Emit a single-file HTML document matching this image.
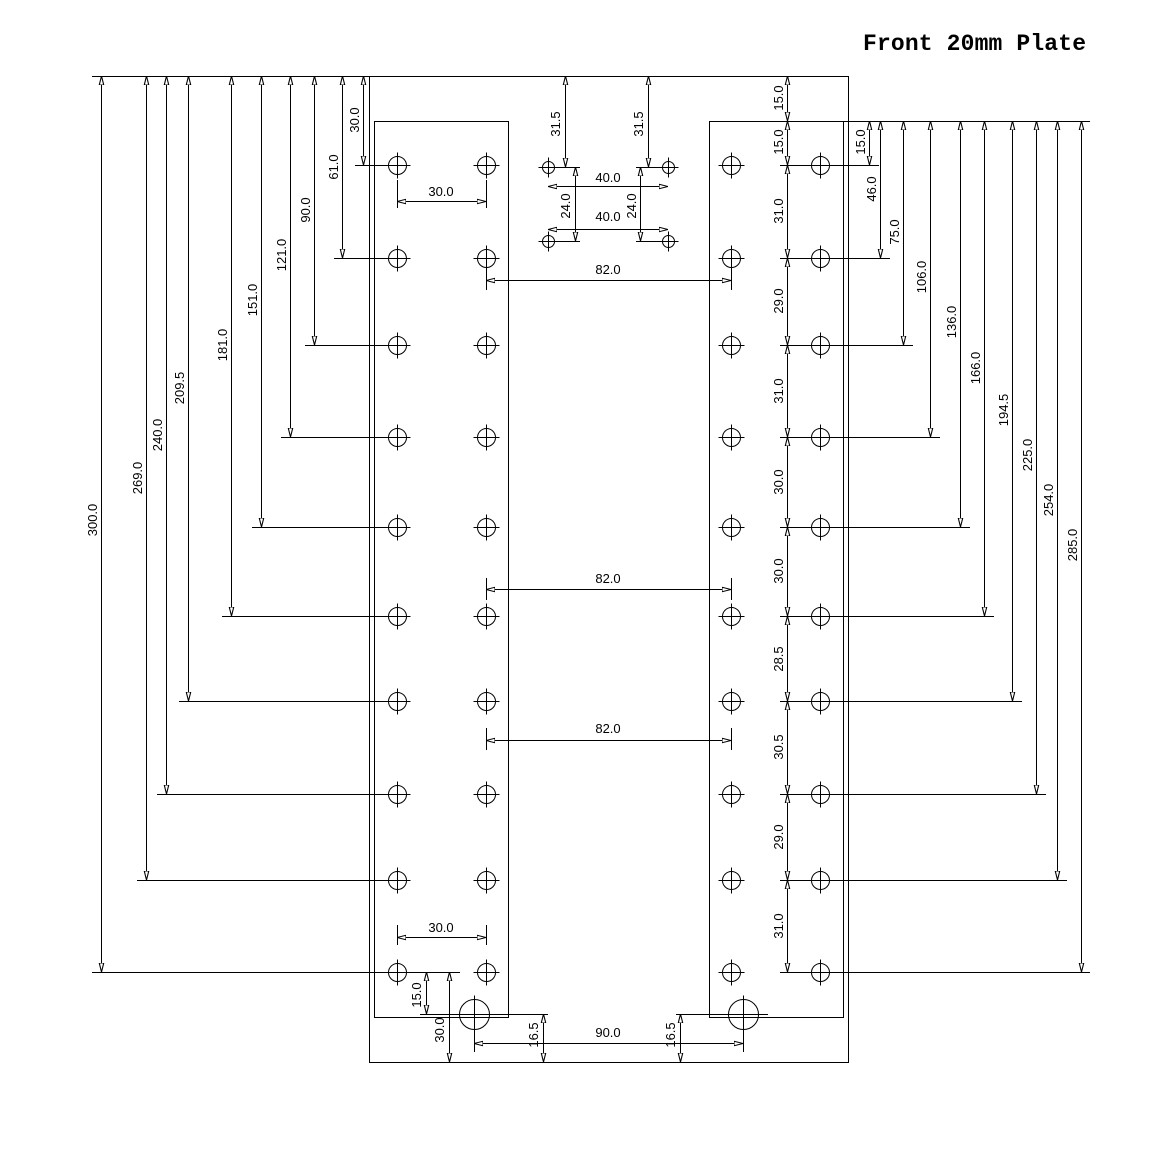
<!DOCTYPE html>
<html><head><meta charset="utf-8"><style>
body{margin:0;background:#fff}
svg{display:block}
text{font-family:"Liberation Sans",Arial,sans-serif;font-size:13px;fill:#000}
</style></head><body>
<svg width="1172" height="1164" viewBox="0 0 1172 1164" xmlns="http://www.w3.org/2000/svg">
<defs>
<marker id="a" viewBox="0 0 10 6" refX="10" refY="3" markerWidth="9" markerHeight="6" markerUnits="userSpaceOnUse" orient="auto-start-reverse"><path d="M0,0.5 L10,3 L0,5.5 Z" fill="#fff" stroke="#000" stroke-width="1.2"/></marker>
<g id="h"><circle r="9" fill="none" stroke="#000"/><line x1="-13" y1="0" x2="13" y2="0" stroke="#000"/><line x1="0" y1="-13" x2="0" y2="13" stroke="#000"/></g>
<g id="s"><circle r="6" fill="none" stroke="#000"/><line x1="-10" y1="0" x2="10" y2="0" stroke="#000"/><line x1="0" y1="-10" x2="0" y2="10" stroke="#000"/></g>
<g id="b"><circle r="15" fill="none" stroke="#000"/><line x1="-19" y1="0" x2="19" y2="0" stroke="#000"/><line x1="0" y1="-19" x2="0" y2="19" stroke="#000"/></g>
</defs>
<text x="863" y="50" style="font-family:'Liberation Mono',monospace;font-size:23px;font-weight:bold" textLength="223">Front 20mm Plate</text>
<g fill="none" stroke="#000" stroke-width="1">
<rect x="369.5" y="76.5" width="479" height="986"/>
<rect x="374.5" y="121.5" width="134" height="896"/>
<rect x="709.5" y="121.5" width="134" height="896"/>
<line x1="92" y1="76.5" x2="369" y2="76.5"/>
<line x1="787" y1="121.5" x2="1090" y2="121.5"/>
<line x1="355" y1="165.5" x2="397" y2="165.5"/>
<line x1="334" y1="258.5" x2="397" y2="258.5"/>
<line x1="305" y1="345.5" x2="397" y2="345.5"/>
<line x1="281" y1="437.5" x2="397" y2="437.5"/>
<line x1="252" y1="527.5" x2="397" y2="527.5"/>
<line x1="222" y1="616.5" x2="397" y2="616.5"/>
<line x1="179" y1="701.5" x2="397" y2="701.5"/>
<line x1="157" y1="794.5" x2="397" y2="794.5"/>
<line x1="137" y1="880.5" x2="397" y2="880.5"/>
<line x1="92" y1="972.5" x2="460" y2="972.5"/>
<line x1="780" y1="165.5" x2="879" y2="165.5"/>
<line x1="780" y1="258.5" x2="890" y2="258.5"/>
<line x1="780" y1="345.5" x2="913" y2="345.5"/>
<line x1="780" y1="437.5" x2="940" y2="437.5"/>
<line x1="780" y1="527.5" x2="970" y2="527.5"/>
<line x1="780" y1="616.5" x2="994" y2="616.5"/>
<line x1="780" y1="701.5" x2="1022" y2="701.5"/>
<line x1="780" y1="794.5" x2="1046" y2="794.5"/>
<line x1="780" y1="880.5" x2="1067" y2="880.5"/>
<line x1="780" y1="972.5" x2="1090" y2="972.5"/>
</g>
<g stroke="#000" stroke-width="1" marker-start="url(#a)" marker-end="url(#a)">
<line x1="101.5" y1="76" x2="101.5" y2="972"/>
<line x1="146.5" y1="76" x2="146.5" y2="880"/>
<line x1="166.5" y1="76" x2="166.5" y2="794"/>
<line x1="188.5" y1="76" x2="188.5" y2="701"/>
<line x1="231.5" y1="76" x2="231.5" y2="616"/>
<line x1="261.5" y1="76" x2="261.5" y2="527"/>
<line x1="290.5" y1="76" x2="290.5" y2="437"/>
<line x1="314.5" y1="76" x2="314.5" y2="345"/>
<line x1="342.5" y1="76" x2="342.5" y2="258"/>
<line x1="363.5" y1="76" x2="363.5" y2="165"/>
<line x1="869.5" y1="121" x2="869.5" y2="165"/>
<line x1="880.5" y1="121" x2="880.5" y2="258"/>
<line x1="903.5" y1="121" x2="903.5" y2="345"/>
<line x1="930.5" y1="121" x2="930.5" y2="437"/>
<line x1="960.5" y1="121" x2="960.5" y2="527"/>
<line x1="984.5" y1="121" x2="984.5" y2="616"/>
<line x1="1012.5" y1="121" x2="1012.5" y2="701"/>
<line x1="1036.5" y1="121" x2="1036.5" y2="794"/>
<line x1="1057.5" y1="121" x2="1057.5" y2="880"/>
<line x1="1081.5" y1="121" x2="1081.5" y2="972"/>
<line x1="787.5" y1="76" x2="787.5" y2="121"/>
<line x1="787.5" y1="121" x2="787.5" y2="165"/>
<line x1="787.5" y1="165" x2="787.5" y2="258"/>
<line x1="787.5" y1="258" x2="787.5" y2="345"/>
<line x1="787.5" y1="345" x2="787.5" y2="437"/>
<line x1="787.5" y1="437" x2="787.5" y2="527"/>
<line x1="787.5" y1="527" x2="787.5" y2="616"/>
<line x1="787.5" y1="616" x2="787.5" y2="701"/>
<line x1="787.5" y1="701" x2="787.5" y2="794"/>
<line x1="787.5" y1="794" x2="787.5" y2="880"/>
<line x1="787.5" y1="880" x2="787.5" y2="972"/>
<line x1="565.5" y1="76" x2="565.5" y2="167"/>
<line x1="648.5" y1="76" x2="648.5" y2="167"/>
<line x1="548" y1="186.5" x2="668" y2="186.5"/>
<line x1="548" y1="229.5" x2="668" y2="229.5"/>
<line x1="575.5" y1="167" x2="575.5" y2="241"/>
<line x1="640.5" y1="167" x2="640.5" y2="241"/>
<line x1="486" y1="280.5" x2="731" y2="280.5"/>
<line x1="486" y1="589.5" x2="731" y2="589.5"/>
<line x1="486" y1="740.5" x2="731" y2="740.5"/>
<line x1="397" y1="201.5" x2="486" y2="201.5"/>
<line x1="397" y1="937.5" x2="486" y2="937.5"/>
<line x1="426.5" y1="972" x2="426.5" y2="1014"/>
<line x1="449.5" y1="972" x2="449.5" y2="1062"/>
<line x1="543.5" y1="1014" x2="543.5" y2="1062"/>
<line x1="680.5" y1="1014" x2="680.5" y2="1062"/>
<line x1="474" y1="1043.5" x2="743" y2="1043.5"/>
</g>
<g fill="none" stroke="#000" stroke-width="1">
<line x1="540" y1="167.5" x2="580" y2="167.5"/>
<line x1="636" y1="167.5" x2="676" y2="167.5"/>
<line x1="540" y1="241.5" x2="580" y2="241.5"/>
<line x1="636" y1="241.5" x2="676" y2="241.5"/>
<line x1="486.5" y1="268" x2="486.5" y2="290"/>
<line x1="731.5" y1="268" x2="731.5" y2="290"/>
<line x1="486.5" y1="578" x2="486.5" y2="600"/>
<line x1="731.5" y1="578" x2="731.5" y2="600"/>
<line x1="486.5" y1="728" x2="486.5" y2="750"/>
<line x1="731.5" y1="728" x2="731.5" y2="750"/>
<line x1="397.5" y1="180" x2="397.5" y2="208"/>
<line x1="486.5" y1="180" x2="486.5" y2="208"/>
<line x1="397.5" y1="925" x2="397.5" y2="945"/>
<line x1="486.5" y1="925" x2="486.5" y2="945"/>
<line x1="420" y1="1014.5" x2="548" y2="1014.5"/>
<line x1="676" y1="1014.5" x2="768" y2="1014.5"/>
<line x1="474.5" y1="1014" x2="474.5" y2="1052"/>
<line x1="743.5" y1="1014" x2="743.5" y2="1052"/>
</g>
<use href="#h" x="397.5" y="165.5"/><use href="#h" x="486.5" y="165.5"/><use href="#h" x="731.5" y="165.5"/><use href="#h" x="820.5" y="165.5"/>
<use href="#h" x="397.5" y="258.5"/><use href="#h" x="486.5" y="258.5"/><use href="#h" x="731.5" y="258.5"/><use href="#h" x="820.5" y="258.5"/>
<use href="#h" x="397.5" y="345.5"/><use href="#h" x="486.5" y="345.5"/><use href="#h" x="731.5" y="345.5"/><use href="#h" x="820.5" y="345.5"/>
<use href="#h" x="397.5" y="437.5"/><use href="#h" x="486.5" y="437.5"/><use href="#h" x="731.5" y="437.5"/><use href="#h" x="820.5" y="437.5"/>
<use href="#h" x="397.5" y="527.5"/><use href="#h" x="486.5" y="527.5"/><use href="#h" x="731.5" y="527.5"/><use href="#h" x="820.5" y="527.5"/>
<use href="#h" x="397.5" y="616.5"/><use href="#h" x="486.5" y="616.5"/><use href="#h" x="731.5" y="616.5"/><use href="#h" x="820.5" y="616.5"/>
<use href="#h" x="397.5" y="701.5"/><use href="#h" x="486.5" y="701.5"/><use href="#h" x="731.5" y="701.5"/><use href="#h" x="820.5" y="701.5"/>
<use href="#h" x="397.5" y="794.5"/><use href="#h" x="486.5" y="794.5"/><use href="#h" x="731.5" y="794.5"/><use href="#h" x="820.5" y="794.5"/>
<use href="#h" x="397.5" y="880.5"/><use href="#h" x="486.5" y="880.5"/><use href="#h" x="731.5" y="880.5"/><use href="#h" x="820.5" y="880.5"/>
<use href="#h" x="397.5" y="972.5"/><use href="#h" x="486.5" y="972.5"/><use href="#h" x="731.5" y="972.5"/><use href="#h" x="820.5" y="972.5"/>
<use href="#s" x="548.5" y="167.5"/><use href="#s" x="668.5" y="167.5"/><use href="#s" x="548.5" y="241.5"/><use href="#s" x="668.5" y="241.5"/>
<use href="#b" x="474.5" y="1014.5"/><use href="#b" x="743.5" y="1014.5"/>
<g text-anchor="middle">
<text transform="translate(97,520) rotate(-90)">300.0</text>
<text transform="translate(142,478) rotate(-90)">269.0</text>
<text transform="translate(162,435) rotate(-90)">240.0</text>
<text transform="translate(184,388) rotate(-90)">209.5</text>
<text transform="translate(227,345) rotate(-90)">181.0</text>
<text transform="translate(257,300) rotate(-90)">151.0</text>
<text transform="translate(286,255) rotate(-90)">121.0</text>
<text transform="translate(310,210) rotate(-90)">90.0</text>
<text transform="translate(338,167) rotate(-90)">61.0</text>
<text transform="translate(359,120) rotate(-90)">30.0</text>
<text transform="translate(865,142) rotate(-90)">15.0</text>
<text transform="translate(876,189) rotate(-90)">46.0</text>
<text transform="translate(899,232) rotate(-90)">75.0</text>
<text transform="translate(926,277) rotate(-90)">106.0</text>
<text transform="translate(956,322) rotate(-90)">136.0</text>
<text transform="translate(980,368) rotate(-90)">166.0</text>
<text transform="translate(1008,410) rotate(-90)">194.5</text>
<text transform="translate(1032,455) rotate(-90)">225.0</text>
<text transform="translate(1053,500) rotate(-90)">254.0</text>
<text transform="translate(1077,545) rotate(-90)">285.0</text>
<text transform="translate(783,98) rotate(-90)">15.0</text>
<text transform="translate(783,142) rotate(-90)">15.0</text>
<text transform="translate(783,211) rotate(-90)">31.0</text>
<text transform="translate(783,301) rotate(-90)">29.0</text>
<text transform="translate(783,391) rotate(-90)">31.0</text>
<text transform="translate(783,482) rotate(-90)">30.0</text>
<text transform="translate(783,571) rotate(-90)">30.0</text>
<text transform="translate(783,659) rotate(-90)">28.5</text>
<text transform="translate(783,747) rotate(-90)">30.5</text>
<text transform="translate(783,837) rotate(-90)">29.0</text>
<text transform="translate(783,926) rotate(-90)">31.0</text>
<text transform="translate(560,124) rotate(-90)">31.5</text>
<text transform="translate(643,124) rotate(-90)">31.5</text>
<text transform="translate(570,206) rotate(-90)">24.0</text>
<text transform="translate(636,206) rotate(-90)">24.0</text>
<text transform="translate(421,995) rotate(-90)">15.0</text>
<text transform="translate(444,1030) rotate(-90)">30.0</text>
<text transform="translate(538,1035) rotate(-90)">16.5</text>
<text transform="translate(675,1035) rotate(-90)">16.5</text>
<text x="608" y="182">40.0</text>
<text x="608" y="221">40.0</text>
<text x="608" y="274">82.0</text>
<text x="608" y="583">82.0</text>
<text x="608" y="733">82.0</text>
<text x="441" y="196">30.0</text>
<text x="441" y="932">30.0</text>
<text x="608" y="1037">90.0</text>
</g>
</svg>
</body></html>
